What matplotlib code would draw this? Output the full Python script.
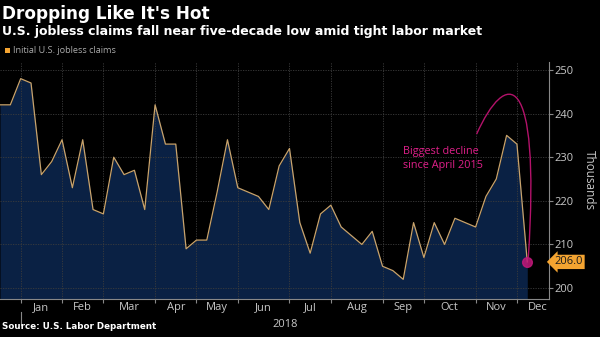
import numpy as np
import matplotlib
matplotlib.use("Agg")
import matplotlib.pyplot as plt
from matplotlib.path import Path
from matplotlib.patches import PathPatch

# weekly initial jobless claims, thousands (weeks ending Dec 16 2017 .. Dec 8 2018)
claims = [242, 242, 248, 247, 226, 229, 234, 223, 234, 218,
          217, 230, 226, 227, 218, 242, 233, 233, 209, 211,
          211, 222, 234, 223, 222, 221, 218, 228, 232, 215,
          208, 217, 219, 214, 212, 210, 213, 205, 204, 202,
          215, 207, 215, 210, 216, 215, 214, 221, 225, 235,
          233, 206]
months = ["Jan", "Feb", "Mar", "Apr", "May", "Jun",
          "Jul", "Aug", "Sep", "Oct", "Nov", "Dec"]
# week index where each month boundary gridline sits
month_edges = [2, 6, 10, 15, 19, 23, 28, 32, 37, 41, 46, 50]
yticks = [200, 210, 220, 230, 240, 250]

BG = "black"
FILL = "#0a2144"
LINE = "#c9a36b"
GRID = "#3c3c3c"
TEXT = "#c8c8c8"
MAGENTA = "#e0208a"

plt.rcParams["font.family"] = ["Open Sans", "DejaVu Sans"]

fig = plt.figure(figsize=(6, 3.37), dpi=100, facecolor=BG)
ax = fig.add_axes([0.0, 0.1128, 0.915, 0.703], facecolor=BG)

x = np.arange(len(claims))
ymin, ymax = 197.5, 251.8
ax.fill_between(x, claims, ymin, color=FILL, lw=0, zorder=1)
ax.plot(x, claims, color=LINE, lw=0.9, zorder=3)

ax.set_xlim(0, 53.1)
ax.set_ylim(ymin, ymax)

# grid
ax.set_xticks(month_edges)
ax.set_xticklabels([])
ax.set_yticks(yticks)
ax.grid(True, color=GRID, lw=0.6, ls=(0, (1.5, 1.5)), zorder=2)
ax.set_axisbelow(False)

# month labels centred between boundaries
mid = [(a + b) / 2 for a, b in zip(month_edges[:-1], month_edges[1:])]
mid.append(month_edges[-1] + 2)
ax.set_xticks(mid, minor=True)
ax.set_xticklabels(months, minor=True)
ax.tick_params(axis="x", which="minor", length=0, pad=2, labelsize=8,
               labelcolor=TEXT)
ax.tick_params(axis="x", which="major", length=3, color="#888888")

ax.yaxis.tick_right()
ax.yaxis.set_label_position("right")
ax.tick_params(axis="y", length=3, color="#888888", labelsize=8,
               labelcolor=TEXT, pad=1)
ax.set_ylabel("Thousands", color=TEXT, fontsize=8.5, rotation=270,
              labelpad=16)

for side in ["top", "left"]:
    ax.spines[side].set_visible(False)
for side in ["bottom", "right"]:
    ax.spines[side].set_color("#888888")
    ax.spines[side].set_linewidth(0.8)

# year label and separator
ax.text(0.52, -0.085, "2018", transform=ax.transAxes, ha="center",
        va="top", color=TEXT, fontsize=8)
ax.plot([2 / 53.1, 2 / 53.1], [-0.055, -0.11], transform=ax.transAxes,
        color="#888888", lw=0.8, clip_on=False)

# annotation
last = len(claims) - 1
ax.plot(last, claims[-1], "o", ms=7, color="#c2187a", alpha=0.85, zorder=5)
verts = [(46.1, 235.3), (48.9, 250.0), (52.3, 251.1), (last + 0.1, claims[-1] + 1)]
curve = Path(verts, [Path.MOVETO, Path.CURVE4, Path.CURVE4, Path.CURVE4])
ax.add_patch(PathPatch(curve, fc="none", ec="#b3126a", lw=1.0, zorder=4))
ax.text(39.0, 229.7, "Biggest decline\nsince April 2015", color=MAGENTA,
        fontsize=7.8, ha="left", va="center", linespacing=1.3)

# last value tag
ax.annotate(f"{claims[-1]:.1f}", xy=(1.01, claims[-1]),
            xycoords=("axes fraction", "data"), ha="left", va="center",
            fontsize=8, color="#1a1a1a",
            bbox=dict(boxstyle="larrow,pad=0.15", fc="#f4a431", ec="none"),
            annotation_clip=False)

# titles and legend
fig.text(0.003, 0.985, "Dropping Like It's Hot", color="white",
         fontsize=12.2, fontweight="bold", va="top", ha="left",
         family="DejaVu Sans")
fig.text(0.003, 0.925, "U.S. jobless claims fall near five-decade low amid tight labor market",
         color="white", fontsize=9.0, fontweight="bold", va="top", ha="left",
         family="DejaVu Sans")
fig.patches.append(plt.Rectangle((0.008, 0.843), 0.009, 0.016,
                                 transform=fig.transFigure, fc="#f4a431",
                                 ec="none"))
fig.text(0.022, 0.851, "Initial U.S. jobless claims", color="#aaaaaa",
         fontsize=6.6, va="center", ha="left")
fig.text(0.003, 0.018, "Source: U.S. Labor Department", color="white",
         fontsize=6.3, fontweight="bold", va="bottom", ha="left",
         family="DejaVu Sans")

fig.savefig("out.png", dpi=100, facecolor=BG)
